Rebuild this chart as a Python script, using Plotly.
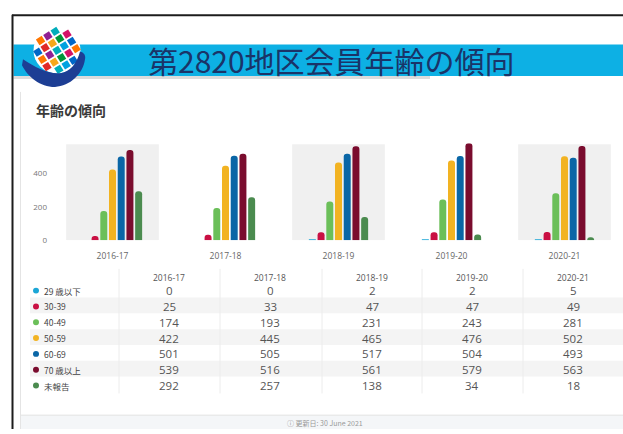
import plotly.graph_objects as go
import math

# ---------------- data ----------------
years = ["2016-17", "2017-18", "2018-19", "2019-20", "2020-21"]
age_groups = ["29 歳以下", "30-39", "40-49", "50-59", "60-69", "70 歳以上", "未報告"]
under29 = [0, 0, 2, 2, 5]
age30_39 = [25, 33, 47, 47, 49]
age40_49 = [174, 193, 231, 243, 281]
age50_59 = [422, 445, 465, 476, 502]
age60_69 = [501, 505, 517, 504, 493]
over70 = [539, 516, 561, 579, 563]
unreported = [292, 257, 138, 34, 18]
series = [under29, age30_39, age40_49, age50_59, age60_69, over70, unreported]
y_ticks = [0, 200, 400]
colors = ["#1BA6D6", "#C91043", "#6BBF59", "#F2B322", "#0A66A6", "#7A0C2E", "#4B8B4F"]

W, H = 623, 434


def X(p):
    return p / W


def Y(p):
    return 1 - p / H


def path(points, close=True):
    s = "M " + " L ".join(f"{X(a):.5f},{Y(b):.5f}" for a, b in points)
    return s + (" Z" if close else "")


fig = go.Figure()

for name, vals, col in zip(age_groups, series, colors):
    fig.add_trace(go.Bar(x=years, y=vals, name=name, marker=dict(color=col, cornerradius=3, line_width=0),
                         hoverinfo="x+y+name"))

shapes = []
annots = []

# frame
shapes.append(dict(type="line", xref="paper", yref="paper", x0=X(12), x1=X(623), y0=Y(15.5), y1=Y(15.5),
                   line=dict(color="#1c1c1c", width=2), layer="above"))
shapes.append(dict(type="line", xref="paper", yref="paper", x0=X(12.5), x1=X(12.5), y0=Y(15), y1=Y(434),
                   line=dict(color="#1c1c1c", width=2), layer="above"))

# banner
shapes.append(dict(type="rect", xref="paper", yref="paper", x0=X(13.5), x1=X(430), y0=Y(77), y1=Y(80),
                   fillcolor="#DCDCDC", line_width=0, layer="below"))
shapes.append(dict(type="rect", xref="paper", yref="paper", x0=X(13.5), x1=X(623), y0=Y(45), y1=Y(77),
                   fillcolor="#0DB0E4", line_width=0, layer="below"))
annots.append(dict(x=X(331), y=Y(61), xref="paper", yref="paper", text="第2820地区会員年齢の傾向",
                   showarrow=False, xanchor="center", yanchor="middle",
                   font=dict(family="Noto Sans CJK JP", size=30, color="#1A3468")))

# logo: globe
gcx, gcy, gr = 57, 51, 23.5
shapes.append(dict(type="circle", xref="paper", yref="paper", x0=X(gcx - gr), x1=X(gcx + gr),
                   y0=Y(gcy + gr), y1=Y(gcy - gr), fillcolor="white", line_width=0, layer="above"))
palette = ["#901F93", "#D41367", "#F7A81B", "#0067C8", "#00ADBB", "#FF7600", "#009739", "#E02927", "#00A2E0"]
ang = math.radians(-32)
step = 8.6
half = 3.4
for i in range(-4, 5):
    for j in range(-4, 5):
        cx = gcx + i * step * math.cos(ang) - j * step * math.sin(ang)
        cy = gcy + i * step * math.sin(ang) + j * step * math.cos(ang)
        if math.hypot(cx - gcx, cy - gcy) > gr - 3.5:
            continue
        pts = []
        for sx, sy in [(-1, -1), (1, -1), (1, 1), (-1, 1)]:
            dx, dy = sx * half, sy * half
            pts.append((cx + dx * math.cos(ang) - dy * math.sin(ang), cy + dx * math.sin(ang) + dy * math.cos(ang)))
        shapes.append(dict(type="path", xref="paper", yref="paper", path=path(pts),
                           fillcolor=palette[(i * 4 + j * 2 + 40) % len(palette)], line_width=0, layer="above"))

# logo: hand
hand = (f"M {X(23):.5f},{Y(60):.5f} C {X(35):.5f},{Y(68):.5f} {X(48):.5f},{Y(75):.5f} {X(60):.5f},{Y(74):.5f} "
        f"C {X(70):.5f},{Y(73):.5f} {X(77):.5f},{Y(64):.5f} {X(80):.5f},{Y(52):.5f} "
        f"C {X(84):.5f},{Y(53):.5f} {X(86):.5f},{Y(56):.5f} {X(85):.5f},{Y(60):.5f} "
        f"C {X(83):.5f},{Y(75):.5f} {X(70):.5f},{Y(87):.5f} {X(55):.5f},{Y(88):.5f} "
        f"C {X(40):.5f},{Y(88):.5f} {X(28):.5f},{Y(78):.5f} {X(22):.5f},{Y(66):.5f} Z")
shapes.append(dict(type="path", xref="paper", yref="paper", path=hand, fillcolor="#1D3E94",
                   line_width=0, layer="above"))

# card borders / footer
shapes.append(dict(type="line", xref="paper", yref="paper", x0=X(20.5), x1=X(20.5), y0=Y(93), y1=Y(434),
                   line=dict(color="#E4E4E4", width=1), layer="below"))
shapes.append(dict(type="rect", xref="paper", yref="paper", x0=X(21), x1=X(623), y0=Y(434), y1=Y(420),
                   fillcolor="#F4F6F8", line_width=0, layer="below"))
shapes.append(dict(type="line", xref="paper", yref="paper", x0=X(21), x1=X(623), y0=Y(420), y1=Y(420),
                   line=dict(color="#E2E2E2", width=1), layer="below"))
annots.append(dict(x=X(285), y=Y(428), xref="paper", yref="paper", text="ⓘ 更新日: 30 June 2021",
                   showarrow=False, xanchor="left", yanchor="middle",
                   font=dict(family="Noto Sans CJK JP", size=7, color="#999")))

# chart title
annots.append(dict(x=X(34), y=Y(111), xref="paper", yref="paper", text="<b>年齢の傾向</b>",
                   showarrow=False, xanchor="left", yanchor="middle",
                   font=dict(family="Noto Sans CJK JP", size=14, color="#3A3A3A")))

# panel backgrounds
for i in range(0, len(years), 2):
    shapes.append(dict(type="rect", xref="x", yref="y", x0=i - 0.41, x1=i + 0.41, y0=0, y1=574,
                       fillcolor="#F0F0F0", line_width=0, layer="below"))

# table
col_x = [169, 270, 372, 472, 573]
row_y0 = 294
row_h = 16
for r in range(len(age_groups)):
    if r % 2 == 1:
        yc = row_y0 - 1 + r * row_h
        shapes.append(dict(type="rect", xref="paper", yref="paper", x0=X(30), x1=X(623),
                           y0=Y(yc + 8), y1=Y(yc - 8), fillcolor="#F4F4F4", line_width=0, layer="below"))
for cx in [119, 220, 322, 422, 523]:
    shapes.append(dict(type="line", xref="paper", yref="paper", x0=X(cx), x1=X(cx), y0=Y(272), y1=Y(398),
                       line=dict(color="#ECECEC", width=1), layer="below"))
for c, yr in enumerate(years):
    annots.append(dict(x=X(col_x[c]), y=Y(281), xref="paper", yref="paper", text=yr, showarrow=False,
                       xanchor="center", yanchor="middle",
                       font=dict(family="Open Sans", size=8.5, color="#555")))
for r, (name, vals, col) in enumerate(zip(age_groups, series, colors)):
    yc = row_y0 + r * row_h
    shapes.append(dict(type="circle", xref="paper", yref="paper", x0=X(33), x1=X(39), y0=Y(yc + 3),
                       y1=Y(yc - 3), fillcolor=col, line_width=0, layer="above"))
    annots.append(dict(x=X(42), y=Y(yc), xref="paper", yref="paper", text=name, showarrow=False,
                       xanchor="left", yanchor="middle",
                       font=dict(family="Noto Sans CJK JP", size=8.5, color="#444")))
    for c, v in enumerate(vals):
        annots.append(dict(x=X(col_x[c]), y=Y(yc), xref="paper", yref="paper", text=str(v), showarrow=False,
                           xanchor="center", yanchor="middle",
                           font=dict(family="Open Sans", size=11.5, color="#555")))

fig.update_layout(
    width=W, height=H,
    margin=dict(l=0, r=0, t=0, b=0),
    paper_bgcolor="white", plot_bgcolor="rgba(0,0,0,0)",
    barmode="group", bargap=0.46, bargroupgap=0.2,
    showlegend=False,
    shapes=shapes, annotations=annots,
    xaxis=dict(domain=[X(56), X(621)], type="category", showgrid=False, zeroline=False, showline=False,
               ticks="", tickfont=dict(family="Open Sans", size=8.5, color="#666"), ticklabelstandoff=9,
               fixedrange=True),
    yaxis=dict(domain=[Y(243), Y(145)], range=[0, 579], tickvals=y_ticks, showgrid=False, zeroline=False,
               showline=False, ticks="", tickfont=dict(family="Open Sans", size=8, color="#777"),
               ticklabelstandoff=8, fixedrange=True),
)

fig.write_html("out.html", config={"displayModeBar": False},
               post_script="document.body.style.margin='0';document.body.style.overflow='hidden';")
